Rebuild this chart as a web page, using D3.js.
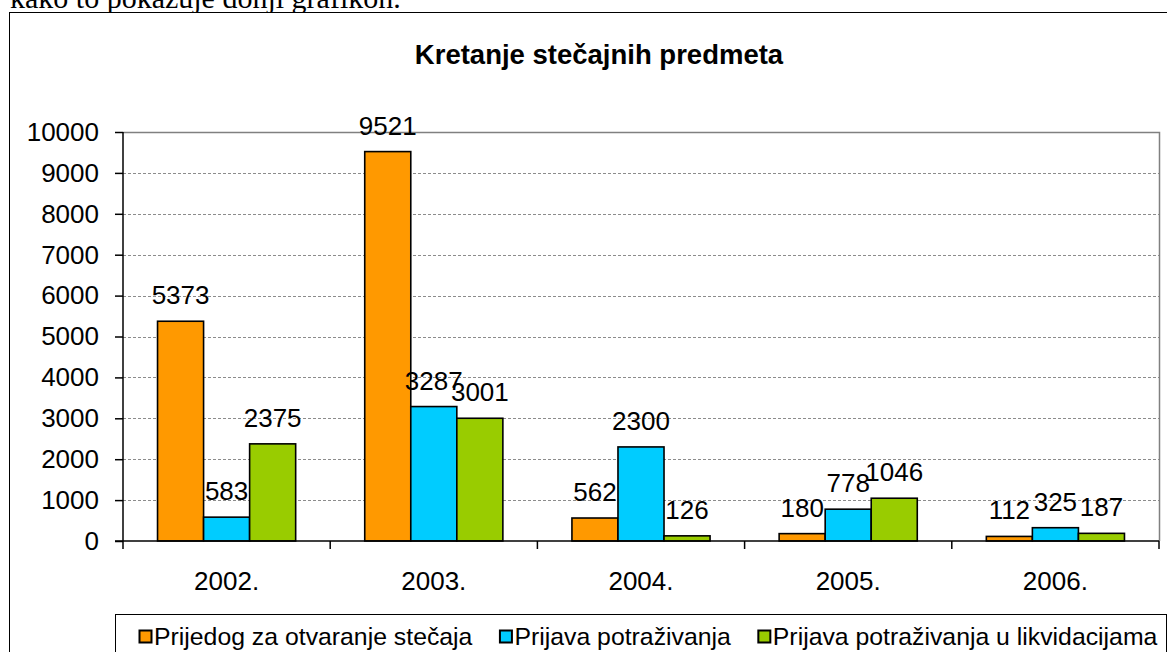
<!DOCTYPE html>
<html>
<head>
<meta charset="utf-8">
<script src="https://d3js.org/d3.v7.min.js"></script>
<style>
  body { margin: 0; background: #fff; }
  svg text { font-family: "Liberation Sans", Arial, sans-serif; fill: #000; }
</style>
</head>
<body>
<svg id="chart" width="1167" height="652"></svg>
<script>
// data
const years = ["2002.", "2003.", "2004.", "2005.", "2006."];
const seriesNames = ["Prijedog za otvaranje stečaja", "Prijava potraživanja", "Prijava potraživanja u likvidacijama"];
const prijedlog = [5373, 9521, 562, 180, 112];
const prijava = [583, 3287, 2300, 778, 325];
const likvidacije = [2375, 3001, 126, 1046, 187];
const yTicks = [0, 1000, 2000, 3000, 4000, 5000, 6000, 7000, 8000, 9000, 10000];

const colors = ["#ff9900", "#00ccff", "#99cc00"];
const allSeries = [prijedlog, prijava, likvidacije];

const svg = d3.select("#chart");

// text above the chart (page text cut off by the crop)
svg.append("text")
    .attr("x", 10).attr("y", 8)
    .style("font-family", "'Liberation Serif', 'Times New Roman', serif")
    .style("font-size", "30px")
    .text("kako to pokazuje donji grafikon.");

// outer chart frame
svg.append("rect")
    .attr("x", 9.5).attr("y", 12.5)
    .attr("width", 1170).attr("height", 660)
    .attr("fill", "#fff").attr("stroke", "#000").attr("stroke-width", 1);

// title
svg.append("text")
    .attr("x", 599).attr("y", 64)
    .attr("text-anchor", "middle")
    .style("font-size", "27.5px").style("font-weight", "bold")
    .text("Kretanje stečajnih predmeta");

const plot = { left: 123, right: 1159, top: 132, bottom: 541 };

const x0 = d3.scaleBand().domain(years).range([plot.left, plot.right]);
const x1 = d3.scaleBand().domain(d3.range(seriesNames.length))
    .range([0, x0.bandwidth()]).paddingOuter(0.75);
const y = d3.scaleLinear().domain([0, 10000]).range([plot.bottom, plot.top]);

// gridlines
svg.append("g")
    .selectAll("line")
    .data(yTicks.filter(d => d > 0 && d < 10000))
    .join("line")
    .attr("x1", plot.left).attr("x2", plot.right)
    .attr("y1", d => Math.round(y(d)) + 0.5).attr("y2", d => Math.round(y(d)) + 0.5)
    .attr("stroke", "#8c8c8c").attr("stroke-dasharray", "3,2");

// plot area border (top and right)
svg.append("path")
    .attr("d", `M${plot.left},${plot.top + 0.5}H${plot.right + 0.5}V${plot.bottom}`)
    .attr("fill", "none").attr("stroke", "#808080").attr("stroke-width", 1.5);

// bars
const groups = svg.append("g").selectAll("g")
    .data(years)
    .join("g")
    .attr("transform", d => `translate(${x0(d)},0)`);

groups.selectAll("rect")
    .data((d, i) => allSeries.map((s, k) => ({ k, v: s[i] })))
    .join("rect")
    .attr("x", d => x1(d.k))
    .attr("y", d => y(d.v))
    .attr("width", x1.bandwidth())
    .attr("height", d => y(0) - y(d.v))
    .attr("fill", d => colors[d.k])
    .attr("stroke", "#000").attr("stroke-width", 1.6);

groups.selectAll("text")
    .data((d, i) => allSeries.map((s, k) => ({ k, v: s[i] })))
    .join("text")
    .attr("x", d => x1(d.k) + x1.bandwidth() / 2)
    .attr("y", d => y(d.v) - 17)
    .attr("text-anchor", "middle")
    .style("font-size", "26px")
    .text(d => d.v);

// y axis
const yAxis = svg.append("g")
    .attr("transform", `translate(${plot.left},0)`)
    .call(d3.axisLeft(y).tickValues(yTicks).tickSize(8).tickPadding(16).tickFormat(d3.format("d")));
yAxis.selectAll("text").style("font-size", "26px").attr("fill", "#000");
yAxis.selectAll("line, path").attr("stroke", "#000").attr("stroke-width", 1.5);
yAxis.select(".domain").attr("d", `M0,${plot.top}V${plot.bottom}`);

// x axis with ticks at category boundaries
const xAxis = svg.append("g").attr("transform", `translate(0,${plot.bottom})`);
xAxis.append("line")
    .attr("x1", plot.left - 8).attr("x2", plot.right)
    .attr("stroke", "#000").attr("stroke-width", 1.5);
xAxis.selectAll(".tick")
    .data(years.map(d => x0(d)).concat([plot.right]))
    .join("line")
    .attr("x1", d => d).attr("x2", d => d)
    .attr("y1", 0).attr("y2", 8)
    .attr("stroke", "#000").attr("stroke-width", 1.5);
xAxis.selectAll("text")
    .data(years)
    .join("text")
    .attr("x", d => x0(d) + x0.bandwidth() / 2)
    .attr("y", 49)
    .attr("text-anchor", "middle")
    .style("font-size", "26px")
    .text(d => d);

// legend
const legend = svg.append("g");
legend.append("rect")
    .attr("x", 115.5).attr("y", 614.5)
    .attr("width", 1051).attr("height", 60)
    .attr("fill", "#fff").attr("stroke", "#000").attr("stroke-width", 1);

let lx = 139;
seriesNames.forEach((name, k) => {
    legend.append("rect")
        .attr("x", lx + 0.5).attr("y", 630.5)
        .attr("width", 12).attr("height", 12)
        .attr("fill", colors[k]).attr("stroke", "#000").attr("stroke-width", 2);
    const t = legend.append("text")
        .attr("x", lx + 15).attr("y", 645)
        .style("font-size", "24.8px")
        .text(name);
    lx += 15 + t.node().getComputedTextLength() + 27;
});
</script>
</body>
</html>
